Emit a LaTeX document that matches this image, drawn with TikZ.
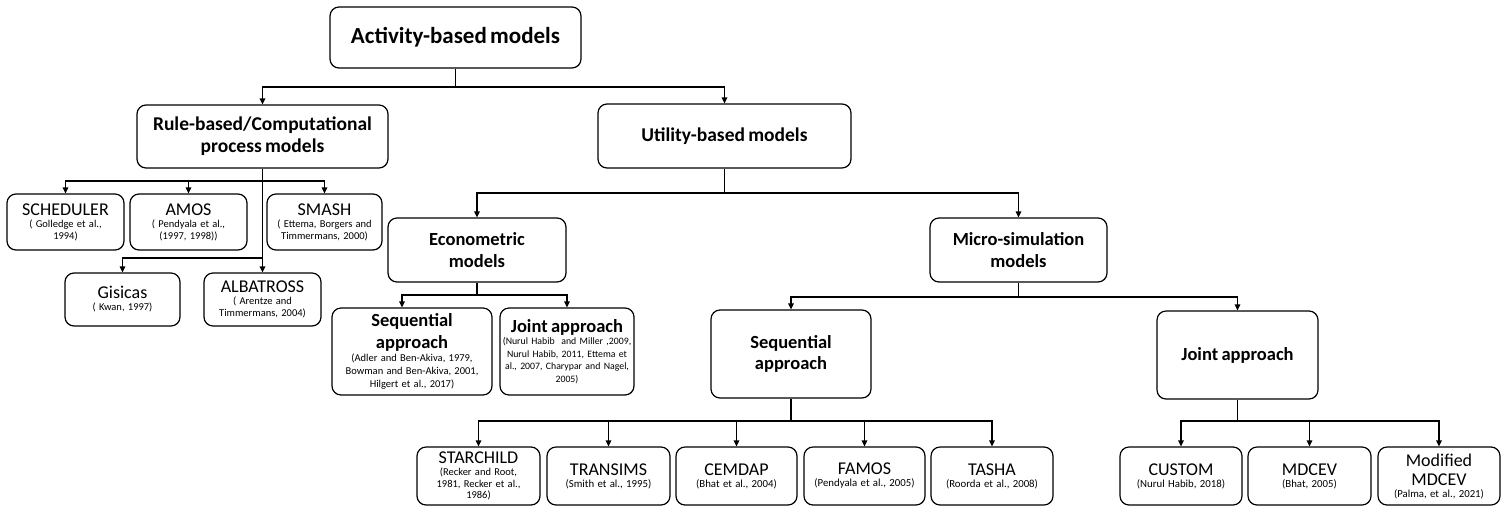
\documentclass[tikz,border=0pt]{standalone}
\usepackage{fontspec}
\setmainfont{Carlito}
\usetikzlibrary{arrows.meta}
\newcommand\Ft[3]{{\fontsize{#1}{#2}\selectfont #3\par}}
\newcommand\Fb[3]{{\fontsize{#1}{#2}\selectfont\bfseries #3\par}}
\newcommand\Cl[1]{\makebox[\linewidth]{#1}}
\begin{document}
\begin{tikzpicture}[x=1pt,y=-1pt,
  box/.style={draw, line width=1.2pt, rounded corners=9pt, align=center, inner xsep=1pt, inner ysep=0pt, fill=white},
  conn/.style={line width=1.4pt, -{Triangle[length=6pt,width=5.5pt]}},
  wire/.style={line width=1.4pt}]
\useasboundingbox (0,0) rectangle (1512,507);
% level 0
\node[box, text width=249pt, minimum height=61pt] (act) at (455.5,37.5) {\Fb{23}{26}{Activity-based models}};
% level 1
\node[box, text width=249pt, minimum height=63pt] (rule) at (262.5,136.5) {\Fb{19.5}{22}{Rule-based/Computational\\process models}};
\node[box, text width=251pt, minimum height=64pt] (util) at (724.5,136) {\Fb{19.5}{22}{Utility-based models}};
% rule children
\node[box, text width=115pt, minimum height=56pt] (sched) at (65.5,222) {\Ft{18}{20}{SCHEDULER}\Ft{10.5}{12}{( Golledge et al.,\\1994)}};
\node[box, text width=115pt, minimum height=56pt] (amos) at (188.5,222) {\Ft{18}{20}{AMOS}\Ft{10.5}{12}{( Pendyala et al.,\\(1997, 1998))}};
\node[box, text width=113pt, minimum height=56pt] (smash) at (324.5,222) {\Ft{18}{20}{SMASH}\Ft{10.5}{12}{( Ettema, Borgers and\\Timmermans, 2000)}};
\node[box, text width=113pt, minimum height=53pt] (gis) at (122.5,299.5) {\Ft{18}{20}{Gisicas}\Ft{10.5}{12}{( Kwan, 1997)}};
\node[box, text width=115pt, minimum height=53pt] (alb) at (262.5,299.5) {\Ft{18}{20}{ALBATROSS}\Ft{10.5}{12}{( Arentze and\\Timmermans, 2004)}};
% level 2
\node[box, text width=176pt, minimum height=64pt] (econ) at (477,250) {\Fb{18.5}{21.5}{Econometric\\models}};
\node[box, text width=175pt, minimum height=64pt] (micro) at (1018.5,250) {\Fb{18.5}{21.5}{Micro-simulation\\models}};
% econometric children
\node[box, text width=158pt, minimum height=87pt] (eseq) at (412,351.5) {\Fb{18.5}{21.5}{Sequential\\approach}\Ft{10.5}{13}{(Adler and Ben-Akiva, 1979,\\Bowman and Ben-Akiva, 2001,\\Hilgert et al., 2017)}};
\node[box, text width=132pt, minimum height=87pt] (ejoint) at (567,351.5) {\Fb{18.5}{21.5}{Joint approach}\Ft{9.8}{12.5}{\Cl{(Nurul Habib\ \ and Miller ,2009,}\\\Cl{Nurul Habib, 2011, Ettema et}\\\Cl{al., 2007, Charypar and Nagel,}\\\Cl{2005)}}};
% micro children
\node[box, text width=158pt, minimum height=88pt] (mseq) at (791,354) {\Fb{18.5}{21.5}{Sequential\\approach}};
\node[box, text width=159pt, minimum height=88pt] (mjoint) at (1237.5,355) {\Fb{18.5}{21.5}{Joint approach}};
% sequential leaves
\node[box, text width=121pt, minimum height=58pt] (star) at (478.5,476) {\Ft{18}{18}{STARCHILD}\Ft{10.5}{11.8}{(Recker and Root,\\1981, Recker et al.,\\1986)}};
\node[box, text width=121pt, minimum height=58pt] (trans) at (608.5,476) {\Ft{18}{20}{TRANSIMS}\Ft{10.8}{12}{(Smith et al., 1995)}};
\node[box, text width=119pt, minimum height=58pt] (cem) at (736.5,476) {\Ft{18}{20}{CEMDAP}\Ft{10.8}{12}{(Bhat et al., 2004)}};
\node[box, text width=119pt, minimum height=58pt] (famos) at (864.5,476) {\Ft{18}{20}{FAMOS}\Ft{10.8}{12}{(Pendyala et al., 2005)}};
\node[box, text width=120pt, minimum height=58pt] (tasha) at (992,476) {\Ft{18}{20}{TASHA}\Ft{10.8}{12}{(Roorda et al., 2008)}};
% joint leaves
\node[box, text width=120pt, minimum height=58pt] (custom) at (1181,476) {\Ft{18}{20}{CUSTOM}\Ft{10.8}{12}{(Nurul Habib, 2018)}};
\node[box, text width=121pt, minimum height=58pt] (mdcev) at (1309.5,476) {\Ft{18}{20}{MDCEV}\Ft{10.8}{12}{(Bhat, 2005)}};
\node[box, text width=120pt, minimum height=58pt] (mod) at (1439,476) {\Ft{18}{19}{Modified\\MDCEV}\Ft{10.8}{12}{(Palma, et al., 2021)}};
% connectors
\coordinate (ab) at (act.south |- 0,87);
\draw[conn] (act.south) -- (ab) -| (rule.north);
\draw[conn] (ab) -| (util.north);
\coordinate (rb1) at (rule.south |- 0,181);
\coordinate (rb2) at (rule.south |- 0,258);
\draw[conn] (rule.south) -- (rb1) -| (sched.north);
\draw[conn] (rb1) -| (amos.north);
\draw[conn] (rb1) -| (smash.north);
\draw[conn] (rule.south) -- (alb.north);
\draw[conn] (rb2) -| (gis.north);
\coordinate (ub) at (util.south |- 0,193);
\draw[conn] (util.south) -- (ub) -| (econ.north);
\draw[conn] (ub) -| (micro.north);
\coordinate (eb) at (econ.south |- 0,295);
\draw[conn] (econ.south) -- (eb) -| ([xshift=-10pt]eseq.north);
\draw[conn] (eb) -| (ejoint.north);
\coordinate (mb) at (micro.south |- 0,297);
\draw[conn] (micro.south) -- (mb) -| (mseq.north);
\draw[conn] (mb) -| (mjoint.north);
\coordinate (sb) at (mseq.south |- 0,421);
\draw[conn] (mseq.south) -- (sb) -| (star.north);
\draw[conn] (sb) -| (trans.north);
\draw[conn] (sb) -| (cem.north);
\draw[conn] (sb) -| (famos.north);
\draw[conn] (sb) -| (tasha.north);
\coordinate (jb) at (mjoint.south |- 0,421);
\draw[conn] (mjoint.south) -- (jb) -| (custom.north);
\draw[conn] (jb) -| (mdcev.north);
\draw[conn] (jb) -| (mod.north);
\end{tikzpicture}
\end{document}
